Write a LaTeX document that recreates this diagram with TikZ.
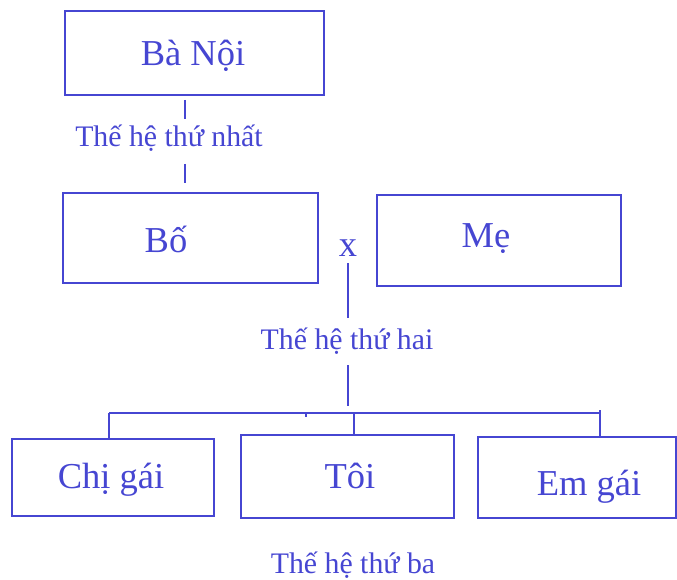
\documentclass[tikz,border=0pt]{standalone}
\usepackage{fontspec}
\setmainfont{Liberation Serif}
\definecolor{fblue}{RGB}{70,70,210}
\begin{document}
\begin{tikzpicture}[x=1pt,y=-1pt,
  box/.style={draw=fblue,line width=2pt,rectangle,inner sep=0pt},
  boxtxt/.style={text=fblue,font=\fontsize{36.5}{40}\selectfont,anchor=base,inner sep=0pt},
  gentxt/.style={text=fblue,font=\fontsize{29.8}{33}\selectfont,anchor=base,inner sep=0pt},
  conn/.style={draw=fblue,line width=2pt}]
\useasboundingbox (0,0) rectangle (677,580);
% boxes
\node[box,minimum width=259pt,minimum height=84pt] (banoi) at (194.5,53) {};
\node[box,minimum width=255pt,minimum height=90pt] (bo) at (190.5,238) {};
\node[box,minimum width=244pt,minimum height=91pt] (me) at (499,240.5) {};
\node[box,minimum width=202pt,minimum height=77pt] (chi) at (113,477.5) {};
\node[box,minimum width=213pt,minimum height=83pt] (toi) at (347.5,476.5) {};
\node[box,minimum width=198pt,minimum height=81pt] (em) at (577,477.5) {};
% box texts
\node[boxtxt] (tbanoi) at (193,66) {Bà Nội};
\node[boxtxt] (tbo) at (166,252) {Bố};
\node[boxtxt] (tme) at (486,247) {Mẹ};
\node[boxtxt] (tchi) at (111,488) {Chị gái};
\node[boxtxt] (ttoi) at (350,488) {Tôi};
\node[boxtxt] (tem) at (589,495) {Em gái};
\node[boxtxt] (cross) at (348,256) {x};
% generation labels
\node[gentxt] (g1) at (169,147) {Thế hệ thứ nhất};
\node[gentxt] (g2) at (347,349) {Thế hệ thứ hai};
\node[gentxt] (g3) at (353,573) {Thế hệ thứ ba};
% connector coordinates
\coordinate (a1) at (185,100);
\coordinate (a2) at (185,119);
\coordinate (a3) at (185,164);
\coordinate (a4) at (185,183);
\coordinate (b1) at (348,263);
\coordinate (b2) at (348,318);
\coordinate (b3) at (348,365);
\coordinate (b4) at (348,406);
\coordinate (hl) at (109,413);
\coordinate (hr) at (600,413);
\coordinate (hm) at (354,413);
\coordinate (chitop) at (109,439);
\coordinate (toitop) at (354,435);
\coordinate (emtop) at (600,437);
\coordinate (rtop) at (600,410);
\coordinate (tk1) at (306,413);
\coordinate (tk2) at (306,417);
% connectors
\draw[conn] (a1) -- (a2);
\draw[conn] (a3) -- (a4);
\draw[conn] (b1) -- (b2);
\draw[conn] (b3) -- (b4);
\draw[conn] (hl) -- (hr);
\draw[conn] (hl) -- (chitop);
\draw[conn] (hm) -- (toitop);
\draw[conn] (rtop) -- (emtop);
\draw[conn,line width=1.5pt] (tk1) -- (tk2);
\end{tikzpicture}
\end{document}
